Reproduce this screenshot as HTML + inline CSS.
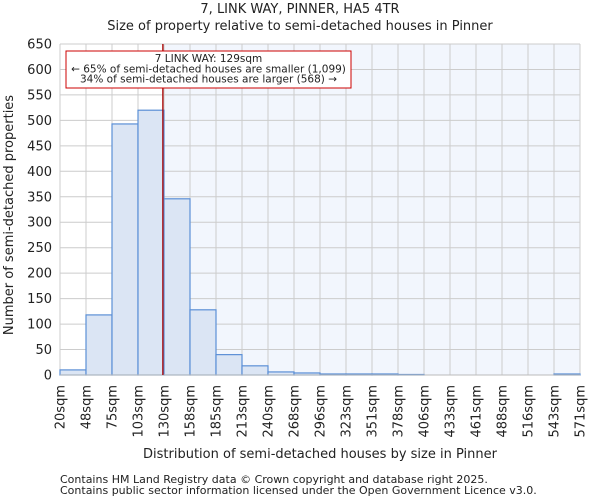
<!DOCTYPE html>
<html><head><meta charset="utf-8"><style>
body{margin:0;background:#fff;font-family:"DejaVu Sans","Liberation Sans",sans-serif;}
svg text{font-family:"DejaVu Sans","Liberation Sans",sans-serif;fill:#222;}
</style></head><body>
<svg id="chart" width="600" height="500" viewBox="0 0 600 500" xmlns="http://www.w3.org/2000/svg">
<text x="300" y="13" text-anchor="middle" font-size="13">7, LINK WAY, PINNER, HA5 4TR</text>
<text x="300" y="30" text-anchor="middle" font-size="13">Size of property relative to semi-detached houses in Pinner</text>
<g id="plot"></g>
<text transform="translate(13,215) rotate(-90)" text-anchor="middle" font-size="13">Number of semi-detached properties</text>
<text x="320" y="458" text-anchor="middle" font-size="13">Distribution of semi-detached houses by size in Pinner</text>
<text x="60" y="483" font-size="11">Contains HM Land Registry data © Crown copyright and database right 2025.</text>
<text x="60" y="494" font-size="11">Contains public sector information licensed under the Open Government Licence v3.0.</text>
</svg>
<script>
const binLabels=["20sqm","48sqm","75sqm","103sqm","130sqm","158sqm","185sqm","213sqm","240sqm","268sqm","296sqm","323sqm","351sqm","378sqm","406sqm","433sqm","461sqm","488sqm","516sqm","543sqm","571sqm"];
const counts=[10,118,493,520,346,128,40,18,6,4,2,2,2,1,0,0,0,0,0,2];
const yTicks=[0,50,100,150,200,250,300,350,400,450,500,550,600,650];
const propertySize=129;
const xMin=20,xMax=571;
const L=60,R=580,T=44,B=375,yMax=650;
const NS="http://www.w3.org/2000/svg";
const g=document.getElementById('plot');
const n=counts.length;
const bw=(R-L)/n;
const xi=i=>L+i*bw;
const xv=v=>L+(v-xMin)/(xMax-xMin)*(R-L);
const y=v=>B-v/yMax*(B-T);
function mk(tag,attrs){const e=document.createElementNS(NS,tag);for(const k in attrs)e.setAttribute(k,attrs[k]);g.appendChild(e);return e;}
const lineX=xv(propertySize);
let e=mk('rect',{x:L,y:T,width:lineX-L,height:B-T,fill:'#ffffff'});


e=mk('rect',{x:lineX,y:T,width:R-lineX,height:B-T,fill:'#f2f6fd'});


yTicks.forEach(t=>{
 let l=mk('line',{x1:L,x2:R,y1:y(t),y2:y(t),stroke:'#cccccc','stroke-width':1});
 
 
 let tx=mk('text',{x:L-8,y:y(t)+4.5,'text-anchor':'end','font-size':13});
 tx.textContent=t;
 
 
});
binLabels.forEach((lb,i)=>{
 const x=xi(i);
 let l=mk('line',{x1:x,x2:x,y1:T,y2:B,stroke:'#cccccc','stroke-width':1});
 
 
 let tx=mk('text',{transform:`translate(${x+4.5},${B+10}) rotate(-90)`,'text-anchor':'end','font-size':13});
 tx.textContent=lb;
 
 
});
counts.forEach((c,i)=>{
 if(c<=0)return;
 let r=mk('rect',{x:xi(i),y:y(c),width:bw,height:B-y(c),fill:'#dbe5f4',stroke:'#5b8fd6','stroke-width':1.2});
 
 
});
e=mk('line',{x1:L,x2:R,y1:B,y2:B,stroke:'#bbbbbb','stroke-width':1});


e=mk('line',{x1:lineX,x2:lineX,y1:T,y2:B,stroke:'#aa0000','stroke-width':1.3});


e=mk('rect',{x:66,y:51,width:285,height:37,fill:'#fff',stroke:'#cc0000','stroke-width':1});


const ann=["7 LINK WAY: 129sqm","← 65% of semi-detached houses are smaller (1,099)","34% of semi-detached houses are larger (568) →"];
ann.forEach((s,k)=>{
 let t=mk('text',{x:208.5,y:62+k*10.3,'text-anchor':'middle','font-size':10.5});
 t.textContent=s;
 
 
});
</script>
</body></html>
